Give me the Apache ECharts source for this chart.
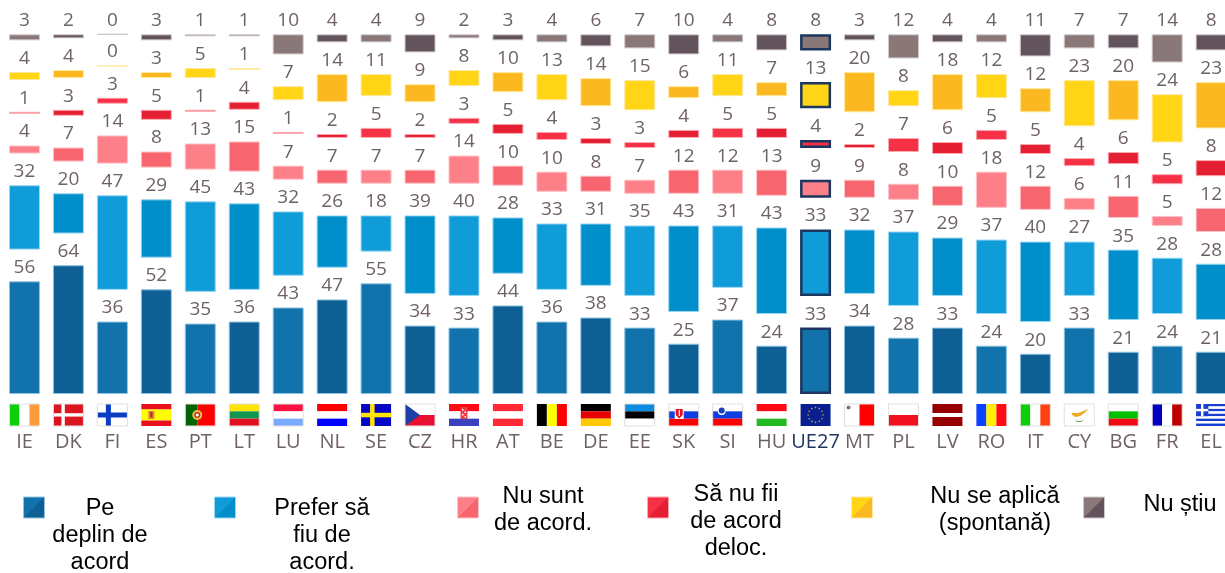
<!DOCTYPE html>
<html><head><meta charset="utf-8">
<style>html,body{margin:0;padding:0;background:#fff;overflow:hidden}#c{width:1225px;height:573px}</style>
<script src="https://cdn.jsdelivr.net/npm/echarts@6/dist/echarts.min.js"></script>
</head><body><div id="c"></div>
<script>
const countries = ['IE','DK','FI','ES','PT','LT','LU','NL','SE','CZ','HR','AT','BE','DE','EE','SK','SI','HU','UE27','MT','PL','LV','RO','IT','CY','BG','FR','EL'];
const peDeplin   = [56,64,36,52,35,36,43,47,55,34,33,44,36,38,33,25,37,24,33,34,28,33,24,20,33,21,24,21];
const prefer     = [32,20,47,29,45,43,32,26,18,39,40,28,33,31,35,43,31,43,33,32,37,29,37,40,27,35,28,28];
const nuSunt     = [4,7,14,8,13,15,7,7,7,7,14,10,10,8,7,12,12,13,9,9,8,10,18,12,6,11,5,12];
const saNuFii    = [1,3,3,5,1,4,1,2,5,2,3,5,4,3,3,4,5,5,4,2,7,6,5,5,4,6,5,8];
const nuSeAplica = [4,4,0,3,5,1,7,14,11,9,8,10,13,14,15,6,11,7,13,20,8,18,12,12,23,20,24,23];
const nuStiu     = [3,2,0,3,1,1,10,4,4,9,2,3,4,6,7,10,4,8,8,3,12,4,4,11,7,7,14,8];
const seriesNames = ['Pe deplin de acord','Prefer să fiu de acord.','Nu sunt de acord.','Să nu fii de acord deloc.','Nu se aplică (spontană)','Nu știu'];
const seriesValues = [peDeplin,prefer,nuSunt,saNuFii,nuSeAplica,nuStiu];
// [light shade, dark shade, pale edge]
const shades = [
  ['#1272ab','#0e6094','#8fc3df'],
  ['#109cd8','#008fca','#9ad6f0'],
  ['#fd7f87','#f7666f','#fdc4c8'],
  ['#f73145','#e51f33','#fbaab2'],
  ['#ffd516','#fcb821','#ffe9a0'],
  ['#8a7879','#63535c','#cfc8c9']
];
const legendLines = [['Pe','deplin de','acord'],['Prefer să','fiu de','acord.'],['Nu sunt','de acord.'],['Să nu fii','de acord','deloc.'],['Nu se aplică','(spontană)'],['Nu știu']];
const legendTextX = [100,322,543,736,995,1180];
const legendTextY = [509,509,497,495,497,505];
const legendSwatchX = [23,214,457,647,851,1083];
const GAP = 15.75, UE = countries.indexOf('UE27'), NAVY = '#1d3660';

const R=(x,y,w,h,c)=>['r',x,y,w,h,c], C=(x,y,r,c)=>['c',x,y,r,c], P=(pts,c)=>['p',pts,c];
const H=(cs)=>cs.map((c,i)=>R(0,i*22/cs.length,30,22/cs.length,c));
const V=(cs)=>cs.map((c,i)=>R(i*30/cs.length,0,30/cs.length,22,c));
const EDGE='#e4dede';
const stars=[];for(let i=0;i<12;i++){stars.push(C(15+7.4*Math.cos(i*Math.PI/6),11+7.4*Math.sin(i*Math.PI/6),0.8,'#c9b52e'));}
const elStripes=[];for(let i=0;i<9;i++){elStripes.push(R(0,i*22/9,30,22/9,i%2?'#ffffff':'#1a3fd0'));}
const flags={
 IE:V(['#0ccf0c','#ffffff','#ff9a3c']),
 DK:[R(0,0,30,22,'#dc1420'),R(8,0,3.4,22,'#fff'),R(0,9.2,30,3.4,'#fff')],
 FI:[R(0,0,30,22,'#fff'),R(8.5,0,5,22,'#0b3cc4'),R(0,8.5,30,5,'#0b3cc4')],
 ES:[...H(['#e8101c','#ffff00','#ffff00','#e8101c']),R(7,7,6,8,'#d9823a'),R(9,8,2,5,'#c8202a')],
 PT:[R(0,0,12,22,'#036403'),R(12,0,18,22,'#ff0000'),C(12,11,5,'#e8c13c'),C(12,11,3,'#c83030'),C(12,11,1.5,'#fff')],
 LT:H(['#ffe600','#0f9650','#e0101f']),
 LU:H(['#ff1040','#ffffff','#78aaff']),
 NL:H(['#ff0000','#ffffff','#0000ff']),
 SE:[R(0,0,30,22,'#0505c8'),R(9,0,4.5,22,'#ffe600'),R(0,8.8,30,4.5,'#ffe600')],
 CZ:[R(0,0,30,11,'#fff'),R(0,11,30,11,'#e81030'),P([[0,0],[15,11],[0,22]],'#1c3fa8')],
 HR:[...H(['#ff0a14','#ffffff','#3a40c0']),R(11.5,3,7,12,'#e8404a'),R(13,5,1.5,1.5,'#fff'),R(15.5,7.5,1.5,1.5,'#fff'),R(13,10,1.5,1.5,'#fff'),R(15.5,12,1.5,1.5,'#fff')],
 AT:H(['#ff2a36','#ffffff','#ff2a36']),
 BE:V(['#000000','#ffff00','#ff0000']),
 DE:H(['#000000','#e80000','#ffc800']),
 EE:H(['#0a8de0','#000000','#ffffff']),
 SK:[...H(['#ffffff','#0f3fe0','#ff0000']),R(6,4,9,11,'#fff'),P([[7,5],[14,5],[14,11],[10.5,14.5],[7,11]],'#e81020'),R(10,6,1.2,6,'#fff')],
 SI:[...H(['#ffffff','#0f3fe0','#ff0000']),C(9,7,4,'#fff'),C(9,6.5,3,'#1c3fb8')],
 HU:H(['#ff0a14','#ffffff','#22bb22']),
 UE27:[R(0,0,30,22,'#0a1f8f'),...stars],
 MT:[R(0,0,15,22,'#fff'),R(15,0,15,22,'#ff0000'),C(4,3.5,2,'#777')],
 PL:H(['#ffffff','#f01020']),
 LV:[R(0,0,30,9,'#960000'),R(0,9,30,4,'#fff'),R(0,13,30,9,'#960000')],
 RO:V(['#0a40ff','#ffee00','#ff0a14']),
 IT:V(['#0ccf0c','#ffffff','#ff4010']),
 CY:[R(0,0,30,22,'#fff'),P([[7,9],[14,9],[19,7],[24,5],[20,9],[16,12],[11,13],[8,11]],'#f2a81e'),P([[10,15],[13,18],[17,18],[20,15],[17,17],[13,17]],'#5aa85a')],
 BG:H(['#ffffff','#00c000','#f00a14']),
 FR:V(['#0000c0','#ffffff','#c00000']),
 EL:[...elStripes,R(0,0,12.2,12.2,'#1a3fd0'),R(4.9,0,2.4,12.2,'#fff'),R(0,4.9,12.2,2.4,'#fff')]
};
const edged=new Set(['IE','DK','FI','PT','LU','SK','SI','CZ','EE','MT','PL','IT','CY','BG','FR','LT']);

function barData(values,s){
  return values.map((v,i)=>{
    const st=shades[s];
    const item={value:v,itemStyle:{color:st[i%2],borderColor:st[2],borderWidth:1}};
    if(i===UE){item.itemStyle.borderColor=NAVY;item.itemStyle.borderWidth=2.5;}
    return item;
  });
}
const series=[];
seriesValues.forEach((vals,s)=>{
  if(s>0){series.push({name:'_gap'+s,type:'bar',stack:'t',silent:true,barWidth:31,
    itemStyle:{color:'transparent'},data:countries.map(()=>GAP)});}
  series.push({name:seriesNames[s],type:'bar',stack:'t',barWidth:31,data:barData(vals,s),
    label:{show:true,position:'top',distance:4,fontFamily:'Open Sans',fontSize:19,color:'#6f6265',
      formatter:p=>String(p.value)}});
});
series.push({type:'custom',name:'flags',silent:true,clip:false,data:countries.map((c,i)=>i),encode:{x:0},
  renderItem(params,api){
    const i=api.value(0),c=countries[i],pt=api.coord([i,0]);
    const ox=pt[0]-15, oy=pt[1]+10;
    const kids=flags[c].map(s=>{
      if(s[0]==='r')return{type:'rect',shape:{x:ox+s[1],y:oy+s[2],width:s[3],height:s[4]},style:{fill:s[5]}};
      if(s[0]==='c')return{type:'circle',shape:{cx:ox+s[1],cy:oy+s[2],r:s[3]},style:{fill:s[4]}};
      return{type:'polygon',shape:{points:s[1].map(q=>[ox+q[0],oy+q[1]])},style:{fill:s[2]}};
    });
    if(edged.has(c))kids.push({type:'rect',shape:{x:ox,y:oy,width:30,height:22},style:{fill:'none',stroke:EDGE,lineWidth:1}});
    return{type:'group',children:kids};
  }});

const graphic=[];
shades.forEach((st,s)=>{
  graphic.push({type:'rect',left:legendSwatchX[s],top:496.5,silent:true,
    shape:{width:21,height:21},
    style:{fill:new echarts.graphic.LinearGradient(0,0,1,1,[{offset:0,color:st[0]},{offset:.5,color:st[0]},{offset:.5,color:st[1]},{offset:1,color:st[1]}]),stroke:st[2],lineWidth:1}});
  legendLines[s].forEach((ln,k)=>{
    graphic.push({type:'text',silent:true,x:legendTextX[s],y:legendTextY[s]+k*27,
      style:{text:ln,fill:'#000',font:'23.5px "Liberation Sans"',align:'center',verticalAlign:'middle'}});
  });
});

const chart=echarts.init(document.getElementById('c'),null,{renderer:'canvas'});
chart.setOption({
  animation:false,backgroundColor:'#fff',
  grid:{left:2.5,top:-0.4,width:1230.6,height:394.4,containLabel:false,outerBoundsMode:'none'},
  xAxis:{type:'category',data:countries,axisLine:{show:false},axisTick:{show:false},
    axisLabel:{interval:0,margin:38,fontFamily:'Open Sans',fontSize:20,color:(v)=>v==='UE27'?NAVY:'#6f6265'}},
  yAxis:{type:'value',min:0,max:196,show:false,splitLine:{show:false}},
  series,graphic
});
</script></body></html>
